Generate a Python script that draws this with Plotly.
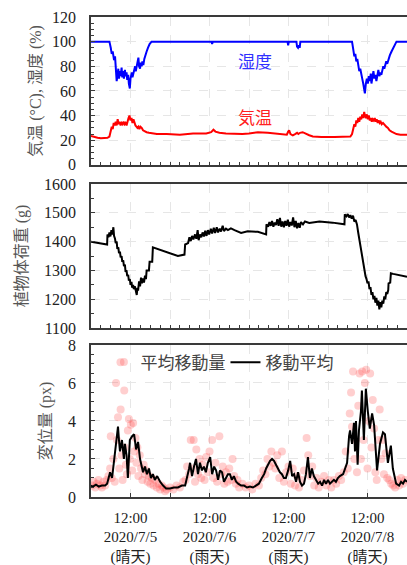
import pandas as pd
import plotly.graph_objects as go

T0 = pd.Timestamp("2020-07-05 00:00")

# ---- Panel 1: humidity (%) and air temperature (°C) ----
hum_hours = [0, 5.6, 6.0, 6.3, 6.6, 7.0, 7.3, 7.6, 7.8, 8.0, 8.3, 8.5, 8.8, 9.0, 9.3, 9.5, 9.8, 10.0,
             10.3, 10.5, 10.8, 11.0, 11.3, 11.5, 11.8, 12.0, 12.4, 12.6, 12.9, 13.1, 13.4, 13.6, 13.9,
             14.1, 14.4, 14.6, 14.9, 15.1, 15.4, 15.6, 15.9, 16.2, 16.5, 16.9, 17.3, 17.8, 18.4,
             36.6, 36.8, 37.0, 59.7, 59.9, 60.1, 62.4, 62.6, 62.9, 63.2, 63.4, 63.6,
             79.3, 79.6, 80.0, 80.3, 80.6, 80.9, 81.2, 81.5, 81.8, 82.1, 82.4, 82.7, 83.0, 83.2,
             83.5, 83.8, 84.1, 84.4, 84.7, 85.0, 85.2, 85.5, 85.8, 86.1, 86.4, 86.7, 87.0, 87.3,
             87.6, 87.9, 88.2, 88.5, 88.8, 89.1, 89.4, 89.7, 90.0, 90.4, 90.8, 91.3, 91.8, 92.3,
             92.8, 96]
hum_values = [100, 100, 95, 90, 92, 85, 88, 75, 68, 72, 78, 70, 76, 72, 79, 71, 76, 70,
              77, 72, 75, 69, 73, 66, 62, 70, 75, 71, 74, 77, 80, 76, 80,
              84, 87, 80, 78, 83, 80, 84, 81, 86, 88, 92, 95, 98, 100,
              100, 98, 100, 100, 97, 100, 100, 96, 95, 97, 95, 100,
              100, 95, 88, 90, 84, 86, 80, 76, 78, 72, 70, 66, 62, 58,
              66, 70, 66, 72, 68, 74, 66, 70, 76, 70, 73, 68, 74, 77,
              72, 75, 73, 78, 80, 78, 82, 84, 82, 86, 89, 92, 95, 98,
              100, 100]

temp_hours = [0, 1.0, 2.0, 3.0, 4.0, 5.0, 5.6, 6.0, 6.3, 6.6, 6.9, 7.2, 7.5, 7.8, 8.1, 8.4, 8.7,
              9.0, 9.3, 9.6, 9.9, 10.2, 10.5, 10.8, 11.1, 11.4, 11.7, 12.0, 12.3, 12.6, 12.9, 13.2,
              13.5, 13.8, 14.1, 14.4, 14.7, 15.0, 15.4, 15.8, 16.3, 16.9, 17.6, 18.4, 20, 23, 27,
              31, 35, 36.5, 37.2, 37.8, 39, 41, 43.6, 46, 48, 50.7, 53.7, 56, 57.8, 59.5, 59.9,
              60.2, 60.6, 61.3, 62.0, 62.6, 63.0, 63.5, 64.3, 65.3, 66.3, 67.4, 70, 74, 78, 78.8,
              79.3, 79.7, 80.0, 80.3, 80.6, 80.9, 81.2, 81.5, 81.8, 82.1, 82.4, 82.7, 83.0, 83.2,
              83.5, 83.8, 84.1, 84.4, 84.7, 85.0, 85.3, 85.6, 85.9, 86.2, 86.5, 86.8, 87.1, 87.4,
              87.7, 88.0, 88.3, 88.7, 89.2, 89.7, 90.2, 90.7, 91.3, 91.9, 92.8, 94, 96]
temp_values = [23.5, 22.5, 22, 21.5, 21.5, 22, 23, 27, 31, 29, 34, 32, 35, 32, 37, 33, 35,
               32, 34, 33, 35, 33, 34, 32, 36, 38, 40, 36, 38, 34, 37, 33,
               32, 31, 30, 31, 29, 31, 30, 28, 27, 26.5, 26, 25.5, 25, 25, 24.5,
               25.5, 25.5, 26.5, 28.5, 27, 26, 25.5, 25, 25, 25.5, 26.5, 26, 25.5, 25, 24.5, 27,
               28, 25, 24, 25, 26, 25, 26, 26.5, 25, 24, 23, 22.5, 22.5, 22.5, 23,
               25, 30, 33, 31, 36, 34, 38, 35, 39, 37, 41, 38, 43, 40,
               38, 41, 37, 40, 36, 38, 35, 37, 36, 38, 35, 37, 34, 36,
               34, 35, 33, 34, 32, 31, 30, 28, 27, 26, 25, 24.5, 24.5]

# ---- Panel 2: plant load (g) ----
wt_hours = [0, 4.9, 5.0, 5.3, 5.6, 5.9, 6.2, 6.5, 6.8, 7.0, 7.3, 7.5, 7.8, 8.0, 8.3, 8.5, 8.8,
            9.0, 9.3, 9.5, 9.8, 10.0, 10.3, 10.5, 10.8, 11.0, 11.3, 11.5, 11.8, 12.0, 12.3, 12.5,
            12.8, 13.0, 13.3, 13.6, 13.9, 14.1, 14.3, 14.6, 14.9, 15.2, 15.5, 15.8, 16.1, 16.4,
            16.7, 16.9, 17.6, 17.8, 18.6, 18.8, 26.4, 28.4, 28.6, 29.5, 29.9, 30.3, 30.7, 31.1,
            31.6, 32.0, 32.4, 32.7, 33.1, 33.5, 33.9, 34.3, 34.7, 35.1, 35.5, 35.9, 36.4, 36.8,
            37.3, 37.7, 38.2, 38.6, 39.1, 39.5, 40.0, 40.4, 41.0, 41.6, 42.5, 43.6, 45.6, 47.6,
            50.7, 53.2, 53.3, 53.8, 54.2, 54.6, 55.0, 55.4, 55.8, 56.2, 56.6, 57.0, 57.4, 57.8,
            58.2, 58.6, 59.0, 59.4, 59.8, 60.2, 60.6, 61.0, 61.4, 61.8, 62.2, 62.6, 63.0, 63.4,
            63.8, 64.4, 65.0, 66.3, 69.4, 73.4, 77.0, 77.1, 77.6, 78.0, 78.4, 78.8, 79.2, 79.6,
            80.0, 80.4, 80.8, 81.2, 81.6, 81.9, 82.2, 82.5, 82.8, 83.1, 83.4, 83.7, 84.0, 84.3,
            84.6, 84.9, 85.2, 85.5, 85.8, 86.1, 86.4, 86.7, 87.0, 87.3, 87.6, 87.9, 88.2, 88.5,
            88.8, 89.1, 89.4, 89.7, 90.0, 90.3, 90.4, 90.9, 91.1, 91.8, 96]
wt_values = [1400, 1390, 1425, 1415, 1432, 1418, 1440, 1425, 1450, 1420, 1410, 1395, 1400, 1375,
             1380, 1360, 1365, 1345, 1350, 1330, 1335, 1315, 1320, 1295, 1300, 1280, 1285, 1265,
             1270, 1250, 1260, 1240, 1250, 1235, 1245, 1225, 1215, 1240, 1230, 1262, 1245, 1275,
             1255, 1272, 1258, 1282, 1270, 1300, 1300, 1330, 1330, 1380, 1350, 1355, 1390, 1395,
             1415, 1402, 1420, 1408, 1425, 1410, 1440, 1405, 1425, 1415, 1432, 1418, 1438, 1420,
             1440, 1425, 1445, 1428, 1448, 1430, 1450, 1432, 1445, 1435, 1455, 1437, 1445, 1440,
             1446, 1440, 1430, 1436, 1434, 1425, 1460, 1452, 1468, 1455, 1472, 1452, 1466, 1458,
             1478, 1455, 1482, 1452, 1470, 1450, 1472, 1455, 1476, 1452, 1468, 1456, 1484, 1450,
             1472, 1446, 1465, 1448, 1468, 1460, 1470, 1465, 1470, 1466, 1460, 1495, 1488, 1496,
             1484, 1492, 1480, 1490, 1470, 1475, 1460, 1430, 1400, 1380, 1360, 1340, 1310, 1300,
             1280, 1270, 1255, 1262, 1235, 1242, 1215, 1225, 1200, 1212, 1188, 1205, 1178, 1195,
             1165, 1190, 1172, 1195, 1185, 1210, 1200, 1225, 1218, 1232, 1255, 1258, 1290, 1288,
             1278]

# ---- Panel 3: displacement (px) ----
pt_hours = [0.3, 0.8, 1.3, 1.8, 2.3, 2.8, 3.3, 3.8, 4.3, 4.8, 5.3, 5.8, 6.0, 6.3, 6.8, 7.2, 7.6,
            7.9, 8.2, 8.6, 9.0, 9.3, 9.6, 10.0, 10.1, 10.3, 10.6, 10.9, 11.2, 11.5, 11.8, 12.1,
            12.5, 12.8, 13.1, 13.5, 13.8, 14.1, 14.4, 14.8, 15.2, 15.6, 16.0, 16.4, 16.8, 17.2,
            17.6, 18.0, 18.5, 19.0, 19.5, 20.0, 20.5, 21.0, 21.5, 22.0, 22.5, 23, 24, 25, 26, 27,
            28, 28.7, 29.2, 29.8, 30.3, 30.8, 31.2, 31.6, 32.0, 32.5, 33, 33.5, 34, 34.5, 35, 35.5,
            36, 36.8, 37.3, 37.8, 38.3, 39.0, 39.5, 40.0, 40.5, 41, 41.5, 42, 42.6, 43.0, 43.5,
            44, 44.5, 45, 46, 47, 48, 49, 50, 51, 51.7, 52.3, 53, 53.6, 54.2, 54.8, 55.4, 56, 56.6,
            57.2, 58, 58.6, 59.3, 60, 60.7, 61.3, 62, 62.6, 63.2, 64, 64.7, 65.5, 66, 66.6, 67.2,
            67.8, 68.5, 69.2, 70, 70.8, 71.5, 72.3, 73, 73.8, 74.5, 75.3, 76, 76.8, 77.4, 78,
            78.6, 79.0, 79.3, 79.6, 80.0, 80.4, 80.8, 81.2, 81.6, 82.0, 82.4, 82.8, 83.2, 83.6,
            84.0, 84.4, 84.8, 85.2, 85.6, 86.0, 86.4, 86.8, 87.3, 87.7, 88.2, 88.6, 89.0, 89.5,
            90, 90.6, 91.2, 91.8, 92.4, 93, 93.6, 94.2, 94.8, 95.4]
pt_values = [0.6, 0.8, 0.5, 0.7, 0.9, 0.6, 0.5, 0.8, 0.6, 0.9, 1.1, 1.5, 3.2, 1.0, 2.0, 0.8, 6.0,
             3.0, 4.2, 1.5, 4.6, 2.2, 0.9, 7.1, 5.6, 2.6, 1.7, 1.2, 3.5, 4.1, 2.0, 3.8,
             1.4, 3.9, 2.4, 3.1, 1.8, 2.6, 1.1, 2.2, 1.5, 0.9, 1.7, 1.2, 1.4, 0.8,
             1.1, 0.7, 1.0, 0.6, 0.9, 0.5, 0.7, 0.4, 0.6, 0.5, 0.3, 0.4, 0.5, 0.4, 0.6, 0.5,
             0.8, 0.9, 1.6, 1.2, 3.0, 1.5, 3.0, 0.8, 2.5, 1.2, 2.0, 1.0, 1.7, 0.9, 2.1, 1.3,
             2.4, 3.0, 1.0, 1.8, 0.8, 3.2, 1.2, 1.6, 0.7, 1.3, 0.8, 1.5, 0.9, 2.0, 1.1,
             0.7, 0.9, 0.5, 0.7, 0.5, 0.6, 0.4, 0.7, 0.6, 1.0, 1.4, 1.2, 2.0, 1.6, 2.4, 1.8, 1.5, 2.2,
             1.0, 2.4, 0.8, 1.3, 1.6, 0.7, 1.5, 0.6, 1.1, 0.5, 0.9, 1.4, 3.1, 2.2, 1.1, 1.6,
             0.6, 1.0, 0.5, 0.8, 1.1, 0.6, 0.9, 0.5, 0.9, 0.7, 1.1, 0.9, 1.3, 2.4, 1.5,
             4.4, 5.5, 3.7, 6.6, 2.0, 3.0, 1.3, 4.8, 6.5, 2.0, 6.6, 3.0, 6.0, 6.7,
             1.5, 4.0, 6.5, 2.6, 5.1, 3.6, 1.3, 0.9, 3.0, 4.6, 2.0, 3.0, 1.2, 2.3,
             1.0, 0.9, 0.7, 0.6, 0.5, 0.9, 0.6, 1.0, 0.7, 0.9]

ma_hours = [0, 0.6, 1.5, 2.4, 3.3, 4.3, 4.9, 5.2, 5.8, 6.4, 7.0, 7.6, 8.2, 8.5, 8.8, 9.4, 9.7,
            10.0, 10.3, 10.8, 11.2, 11.8, 12.5, 13.1, 13.7, 14.3, 14.9, 15.3, 15.8, 16.4, 17.0,
            17.6, 18.2, 18.8, 19.4, 20.1, 21.0, 21.9, 22.8, 24.0, 25.2, 26.4, 27.6, 28.6, 29.2,
            29.8, 30.1, 30.7, 31.3, 31.9, 32.5, 33.1, 33.7, 34.3, 34.9, 35.5, 36.2, 36.8, 37.4,
            38.0, 38.6, 39.2, 39.8, 40.4, 41.0, 41.6, 42.2, 42.8, 43.4, 44.1, 44.7, 45.6, 46.5,
            47.4, 48.3, 49.2, 50.1, 51.0, 51.9, 52.6, 53.2, 53.8, 54.4, 55.0, 55.6, 56.2, 56.8,
            57.4, 58.0, 58.6, 59.2, 59.9, 60.5, 61.1, 61.7, 62.3, 62.9, 63.5, 64.1, 64.7, 65.3,
            65.9, 66.5, 67.1, 67.7, 68.4, 69.0, 69.6, 70.2, 70.8, 71.4, 72.0, 72.6, 73.2, 73.8,
            74.4, 75.0, 75.6, 76.6, 77.2, 77.8, 78.4, 78.7, 79.3, 79.9, 80.2, 80.5, 81.0, 81.4,
            82.0, 82.3, 82.9, 83.5, 84.1, 84.7, 85.4, 86.0, 86.9, 87.8, 88.7, 89.3, 89.6, 90.2,
            91.1, 91.7, 92.7, 93.6, 94.2, 94.8, 95.4, 96]
ma_values = [0.6, 0.55, 0.65, 0.55, 0.6, 0.6, 0.7, 0.9, 1.3, 1.0, 2.0, 3.0, 3.7, 3.0, 2.4, 3.0, 2.2,
             2.0, 2.8, 2.2, 1.0, 3.0, 3.2, 3.3, 2.5, 2.9, 2.0, 1.6, 1.3, 1.6, 1.2,
             1.5, 1.0, 1.2, 0.9, 1.1, 0.8, 0.6, 0.45, 0.45, 0.5, 0.5, 0.6, 0.6, 1.0,
             1.5, 1.8, 1.1, 1.6, 2.0, 1.2, 1.8, 1.4, 1.6, 1.3, 1.8, 2.1, 1.2, 1.6,
             1.4, 0.9, 1.4, 1.3, 0.8, 1.0, 1.2, 1.2, 0.9, 1.1, 0.8, 0.7, 0.6, 0.6,
             0.5, 0.55, 0.5, 0.6, 0.7, 1.0, 1.2, 1.5, 1.7, 1.9, 2.0, 1.9, 1.7, 1.5,
             1.3, 1.2, 1.0, 1.0, 1.4, 1.9, 1.1, 1.2, 0.8, 1.3, 0.8, 0.6, 0.7, 1.2,
             2.1, 1.0, 1.5, 1.1, 0.9, 0.7, 0.8, 0.6, 0.9, 0.7, 0.9, 0.7, 0.8, 0.9,
             0.8, 1.0, 1.1, 1.2, 1.5, 1.8, 3.2, 3.5, 2.8, 3.9, 2.4, 4.0, 1.7, 3.5,
             4.5, 5.6, 3.0, 5.7, 4.5, 3.6, 4.4, 3.8, 1.4, 2.8, 3.4, 3.3, 2.8, 1.8,
             2.7, 1.5, 0.7, 0.6, 0.8, 0.7, 0.9, 0.8]

tick_hours = [0, 12, 24, 36, 48, 60, 72, 84, 96]
tick_labels = ["", "12:00<br>2020/7/5<br>(晴天)", "", "12:00<br>2020/7/6<br>(雨天)", "",
               "12:00<br>2020/7/7<br>(雨天)", "", "12:00<br>2020/7/8<br>(晴天)", ""]


def ts(hours):
    return [T0 + pd.Timedelta(hours=h) for h in hours]


FONT = "Liberation Serif, Noto Sans CJK JP, serif"
AX = "#3a3a3a"
GRID = "#e6e6e6"

fig = go.Figure()
fig.add_trace(go.Scatter(x=ts(hum_hours), y=hum_values, mode="lines", name="湿度",
                         line=dict(color="#0000ff", width=2), xaxis="x", yaxis="y",
                         showlegend=False))
fig.add_trace(go.Scatter(x=ts(temp_hours), y=temp_values, mode="lines", name="気温",
                         line=dict(color="#ff0000", width=2), xaxis="x", yaxis="y",
                         showlegend=False))
fig.add_trace(go.Scatter(x=ts(wt_hours), y=wt_values, mode="lines", name="植物体荷重",
                         line=dict(color="#000000", width=2), xaxis="x2", yaxis="y2",
                         showlegend=False))
fig.add_trace(go.Scatter(x=ts(pt_hours), y=pt_values, mode="markers", name="平均移動量",
                         marker=dict(color="rgba(255,70,70,0.26)", size=8, line=dict(width=0)),
                         xaxis="x3", yaxis="y3"))
fig.add_trace(go.Scatter(x=ts(ma_hours), y=ma_values, mode="lines", name="移動平均",
                         line=dict(color="#000000", width=2), xaxis="x3", yaxis="y3"))

xr = [T0, T0 + pd.Timedelta(hours=96)]
common_x = dict(type="date", range=xr, showline=True, linecolor=AX, linewidth=1.5, mirror=True,
                ticks="inside", ticklen=4, tickcolor=AX, tickvals=ts(tick_hours),
                showgrid=True, gridcolor=GRID, griddash="dash", gridwidth=1, zeroline=False,
                tickfont=dict(family=FONT, size=15, color="#222"))
minor3h = dict(ticks="inside", ticklen=3, dtick=3 * 3600 * 1000, tick0=T0, tickcolor=AX,
               showgrid=False)

common_y = dict(showline=True, linecolor=AX, linewidth=1.5, mirror=False, ticks="inside",
                ticklen=4, tickcolor=AX, showgrid=True, gridcolor=GRID, griddash="dash",
                zeroline=False, ticklabelstandoff=10,
                tickfont=dict(family=FONT, size=16, color="#222"),
                title_font=dict(family=FONT, size=16, color="#555"))

fig.update_layout(
    width=407, height=565,
    margin=dict(l=91, r=0, t=17, b=68, autoexpand=False),
    paper_bgcolor="white", plot_bgcolor="white",
    font=dict(family=FONT, size=15, color="#333"),
    xaxis=dict(common_x, anchor="y", showticklabels=False, ticktext=[""] * 9, minor=minor3h),
    xaxis2=dict(common_x, anchor="y2", matches="x", showticklabels=False, ticktext=[""] * 9,
                minor=minor3h),
    xaxis3=dict(common_x, anchor="y3", matches="x", ticktext=tick_labels, ticklabelstandoff=6),
    yaxis=dict(common_y, domain=[0.692, 1.0], range=[0, 120], dtick=20,
               minor=dict(ticks="inside", ticklen=3, dtick=5, tickcolor=AX, showgrid=False),
               title=dict(text="気温 (°C), 湿度 (%)", standoff=6)),
    yaxis2=dict(common_y, domain=[0.352, 0.652], range=[1100, 1600], dtick=100,
                minor=dict(ticks="inside", ticklen=3, dtick=50, tickcolor=AX, showgrid=False),
                title=dict(text="植物体荷重 (g)", standoff=12)),
    yaxis3=dict(common_y, domain=[0.0, 0.3167], range=[0, 8], dtick=2,
                minor=dict(ticks="inside", ticklen=3, dtick=0.5, tickcolor=AX, showgrid=False),
                title=dict(text="変位量 (px)", standoff=12)),
    legend=dict(orientation="h", x=0.03, xanchor="left", y=0.28, yanchor="middle",
                bgcolor="rgba(0,0,0,0)", font=dict(family=FONT, size=17, color="#444"),
                itemwidth=30, tracegroupgap=0, entrywidth=80, entrywidthmode="pixels"),
    annotations=[
        dict(text="湿度", x=T0 + pd.Timedelta(hours=49.8), y=83, xref="x", yref="y",
             showarrow=False, font=dict(family=FONT, size=17, color="#3030ff")),
        dict(text="気温", x=T0 + pd.Timedelta(hours=49.8), y=38, xref="x", yref="y",
             showarrow=False, font=dict(family=FONT, size=17, color="#ff2020")),
    ],
)

fig.write_html("out.html", config={"displayModeBar": False},
               post_script="document.body.style.margin='0';document.body.style.overflow='hidden';")
